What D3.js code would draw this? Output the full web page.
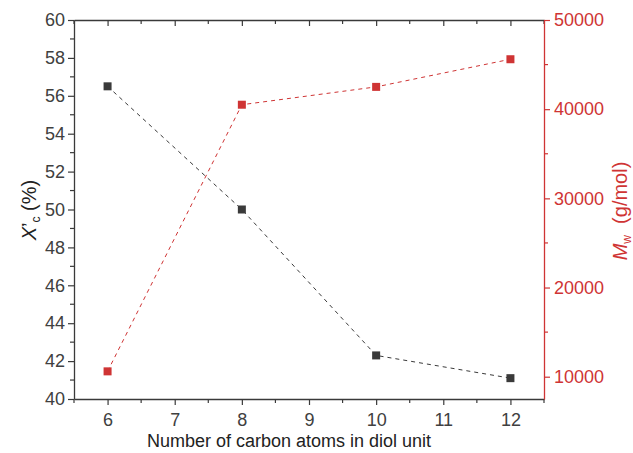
<!DOCTYPE html>
<html><head><meta charset="utf-8">
<script src="https://cdn.jsdelivr.net/npm/d3@7"></script>
<style>body{margin:0;background:#fff}svg{display:block}text{font-family:"Liberation Sans",Arial,sans-serif}</style>
</head><body>
<svg id="c" width="633" height="453"></svg>
<script>
const carbons = [6, 8, 10, 12];
const xc = [56.5, 50.0, 42.3, 41.1];
const mw = [10600, 40500, 42500, 45600];
const xTicks = [6, 7, 8, 9, 10, 11, 12];
const yLeftTicks = [40, 42, 44, 46, 48, 50, 52, 54, 56, 58, 60];
const yRightTicks = [10000, 20000, 30000, 40000, 50000];

const BLK = "#3a3a3a", TXT = "#404040", RED = "#cf3434";
const m = {l: 74, r: 544, t: 20, b: 399};
const svg = d3.select("#c");
const x = d3.scaleLinear().domain([5.5, 12.5]).range([m.l, m.r]);
const yL = d3.scaleLinear().domain([40, 60]).range([m.b, m.t]);
const yR = d3.scaleLinear().domain([7500, 50000]).range([m.b, m.t]);

function style(g, col, tcol, fs) {
  g.select(".domain").attr("stroke", col).attr("stroke-width", 1.3);
  g.selectAll(".tick line").attr("stroke", col).attr("stroke-width", 1.2);
  g.selectAll(".tick text").attr("fill", tcol).style("font-size", fs + "px").style("font-family", '"Liberation Sans",Arial,sans-serif');
}
const xMinor = d3.range(5.5, 12.51, 0.5).filter(v => !Number.isInteger(v));
const yLMinor = d3.range(41, 60, 2);
const yRMinor = [15000, 25000, 35000, 45000];

const gB = svg.append("g").attr("transform", `translate(0,${m.b})`)
  .call(d3.axisBottom(x).tickValues(xTicks).tickSize(6).tickPadding(8).tickSizeOuter(0).tickFormat(d3.format("d")));
style(gB, BLK, TXT, 18);
gB.selectAll(".minor").data(xMinor).join("line").attr("x1", d => x(d)).attr("x2", d => x(d)).attr("y1", 0).attr("y2", 4).attr("stroke", BLK).attr("stroke-width", 1.2);
const gT = svg.append("g").attr("transform", `translate(0,${m.t})`)
  .call(d3.axisTop(x).tickValues(xTicks).tickSize(-6).tickFormat("").tickSizeOuter(0));
style(gT, BLK, TXT, 18);
gT.selectAll(".minor").data(xMinor).join("line").attr("x1", d => x(d)).attr("x2", d => x(d)).attr("y1", 0).attr("y2", 4).attr("stroke", BLK).attr("stroke-width", 1.2);
const gL = svg.append("g").attr("transform", `translate(${m.l},0)`)
  .call(d3.axisLeft(yL).tickValues(yLeftTicks).tickSize(6).tickPadding(3).tickSizeOuter(0));
style(gL, BLK, TXT, 18);
gL.selectAll(".minor").data(yLMinor).join("line").attr("y1", d => yL(d)).attr("y2", d => yL(d)).attr("x1", 0).attr("x2", -4).attr("stroke", BLK).attr("stroke-width", 1.2);
const gR = svg.append("g").attr("transform", `translate(${m.r},0)`)
  .call(d3.axisRight(yR).tickValues(yRightTicks).tickSize(6).tickPadding(4).tickSizeOuter(0).tickFormat(d3.format("d")));
style(gR, RED, RED, 18);
gR.selectAll(".minor").data(yRMinor).join("line").attr("y1", d => yR(d)).attr("y2", d => yR(d)).attr("x1", 0).attr("x2", 4).attr("stroke", RED).attr("stroke-width", 1.2);

const lineL = d3.line().x((d, i) => x(carbons[i])).y(d => yL(d));
const lineR = d3.line().x((d, i) => x(carbons[i])).y(d => yR(d));
svg.append("path").attr("d", lineL(xc)).attr("fill", "none").attr("stroke", BLK).attr("stroke-width", 1).attr("stroke-dasharray", "4,4");
svg.append("path").attr("d", lineR(mw)).attr("fill", "none").attr("stroke", RED).attr("stroke-width", 1).attr("stroke-dasharray", "4,4");
const S = 8;
svg.selectAll(".mL").data(xc).join("rect").attr("x", (d, i) => x(carbons[i]) - S / 2).attr("y", d => yL(d) - S / 2).attr("width", S).attr("height", S).attr("fill", BLK);
svg.selectAll(".mR").data(mw).join("rect").attr("x", (d, i) => x(carbons[i]) - S / 2).attr("y", d => yR(d) - S / 2).attr("width", S).attr("height", S).attr("fill", RED);

svg.append("text").attr("x", 289).attr("y", 447).attr("text-anchor", "middle").attr("fill", "#222").style("font-size", "18px").text("Number of carbon atoms in diol unit");
const tl = svg.append("text").attr("transform", `translate(36,210) rotate(-90)`).attr("text-anchor", "middle").attr("fill", "#222").style("font-size", "20px");
tl.append("tspan").attr("font-style", "italic").text("X");
tl.append("tspan").text("\u2019");
tl.append("tspan").style("font-size", "12px").attr("dy", 4).text("c");
tl.append("tspan").attr("dy", -4).text(" (%)");
const tr = svg.append("text").attr("transform", `translate(627,211) rotate(-90)`).attr("text-anchor", "middle").attr("fill", RED).style("font-size", "20px");
tr.append("tspan").attr("font-style", "italic").text("M");
tr.append("tspan").style("font-size", "12px").attr("dy", 4).text("w");
tr.append("tspan").attr("dy", -4).text("\u00a0\u00a0(g/mol)");
</script>
</body></html>
